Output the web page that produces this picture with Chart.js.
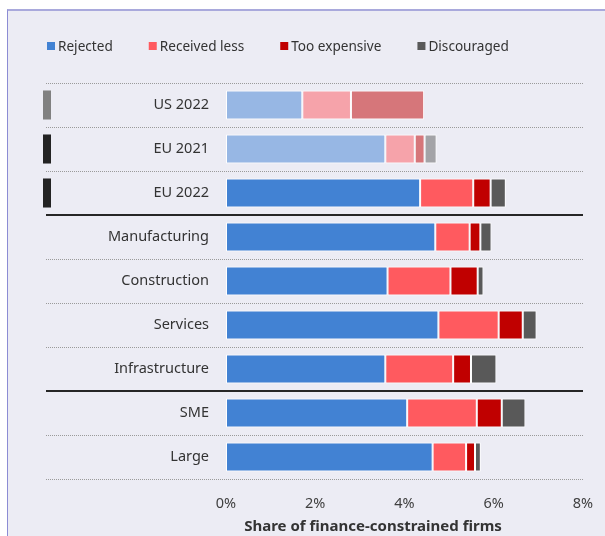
<!DOCTYPE html>
<html>
<head>
<meta charset="utf-8">
<script src="https://cdn.jsdelivr.net/npm/chart.js@4"></script>
<style>
    body { margin: 0; background: #ffffff; }
    #panel {
        position: absolute; left: 7px; top: 9px; width: 620px; height: 560px;
        background: #ececf4;
        border-top: 2px solid #a9a9dc;
        border-left: 1px solid #8c8cd4;
    }
    #myChart { position: absolute; left: 0; top: 0; }
</style>
</head>
<body>
<div id="panel"></div>
<canvas id="myChart" width="605" height="536"></canvas>
<script>
// categorias del eje y
const categorias = ['US 2022', 'EU 2021', 'EU 2022', 'Manufacturing', 'Construction', 'Services', 'Infrastructure', 'SME', 'Large'];

// datos de cada serie (en %)
const rechazadas = [1.71, 3.57, 4.35, 4.69, 3.62, 4.76, 3.57, 4.06, 4.63];
const recibioMenos = [1.09, 0.66, 1.19, 0.77, 1.41, 1.35, 1.52, 1.56, 0.75];
const muyCaro = [1.64, 0.22, 0.39, 0.24, 0.61, 0.54, 0.40, 0.56, 0.20];
const desanimadas = [0, 0.27, 0.34, 0.25, 0.13, 0.31, 0.57, 0.53, 0.13];

const nombresSeries = ['Rejected', 'Received less', 'Too expensive', 'Discouraged'];
const ticksX = [0, 2, 4, 6, 8];
const tituloX = 'Share of finance-constrained firms';

// colores
const colores = ['#4282d3', '#ff5a5f', '#c00000', '#595959'];
const coloresSuaves = ['rgba(66,130,211,0.5)', 'rgba(255,90,95,0.5)', 'rgba(192,0,0,0.5)', 'rgba(89,89,89,0.5)'];
const marcas = { 0: '#808080', 1: '#232323', 2: '#232323' };     // barritas a la izquierda
const separadores = [3, 7];                                        // lineas gruesas entre grupos
const fuente = '"Noto Sans", sans-serif';

// las dos primeras filas van mas claras
const colorFila = (i, s) => (i < 2 ? coloresSuaves[s] : colores[s]);

const series = [rechazadas, recibioMenos, muyCaro, desanimadas];

const data = {
    labels: categorias,
    datasets: series.map((valores, s) => ({
        label: nombresSeries[s],
        data: valores,
        backgroundColor: valores.map((v, i) => colorFila(i, s)),
        borderColor: '#ffffff',
        borderWidth: 1,
        borderSkipped: false,
        barPercentage: 0.66,
        categoryPercentage: 1
    }))
};

// plugin para lineas de la cuadricula, marcas, leyenda y titulo
const extras = {
    id: 'extras',
    beforeDatasetsDraw(chart) {
        const ctx = chart.ctx;
        const y = chart.scales.y;
        ctx.save();
        for (let i = 0; i <= categorias.length; i++) {
            const py = Math.round(y.getPixelForValue(i - 0.5));
            ctx.beginPath();
            if (separadores.includes(i)) {
                ctx.strokeStyle = '#262626';
                ctx.lineWidth = 2;
                ctx.setLineDash([]);
                ctx.moveTo(46, py);
                ctx.lineTo(583, py);
            } else {
                ctx.strokeStyle = '#9a9a9a';
                ctx.lineWidth = 1;
                ctx.setLineDash([1, 1]);
                ctx.moveTo(46, py + 0.5);
                ctx.lineTo(583, py + 0.5);
            }
            ctx.stroke();
        }
        ctx.restore();
    },
    afterDraw(chart) {
        const ctx = chart.ctx;
        const meta = chart.getDatasetMeta(0);
        ctx.save();

        // barritas de region
        Object.keys(marcas).forEach(k => {
            const bar = meta.data[k];
            ctx.fillStyle = marcas[k];
            ctx.fillRect(43, bar.y - bar.height / 2, 8, bar.height);
        });

        // leyenda
        ctx.font = '13.6px ' + fuente;
        ctx.textBaseline = 'middle';
        let x = 47;
        nombresSeries.forEach((nombre, s) => {
            ctx.fillStyle = colores[s];
            ctx.fillRect(x, 42, 8, 8);
            ctx.fillStyle = '#333333';
            ctx.fillText(nombre, x + 11, 47);
            x += 11 + ctx.measureText(nombre).width + 36;
        });

        // titulo del eje x
        ctx.font = 'bold 15px ' + fuente;
        ctx.textAlign = 'center';
        ctx.fillStyle = '#333333';
        ctx.fillText(tituloX, 373, 527);
        ctx.restore();
    }
};

const config = {
    type: 'bar',
    data: data,
    options: {
        indexAxis: 'y',
        responsive: false,
        animation: false,
        layout: { padding: { left: 0, top: 83, right: 22, bottom: 0 } },
        plugins: {
            legend: { display: false },
            tooltip: { enabled: false }
        },
        scales: {
            x: {
                stacked: true,
                min: 0,
                max: 8,
                afterFit: (s) => { s.height = 57; s.paddingLeft = 0; s.paddingRight = 0; },
                afterBuildTicks: (s) => { s.ticks = ticksX.map(v => ({ value: v })); },
                grid: { display: false, drawTicks: false },
                border: { display: false },
                ticks: {
                    padding: 16,
                    color: '#404040',
                    font: { family: fuente, size: 14.5 },
                    callback: (v) => v + '%'
                }
            },
            y: {
                stacked: true,
                afterFit: (s) => { s.width = 226; },
                grid: { display: false, drawTicks: false },
                border: { display: false },
                ticks: {
                    padding: 17,
                    color: '#333333',
                    font: { family: fuente, size: 14.5 }
                }
            }
        }
    },
    plugins: [extras]
};

const myChart = new Chart(document.getElementById('myChart'), config);
</script>
</body>
</html>
